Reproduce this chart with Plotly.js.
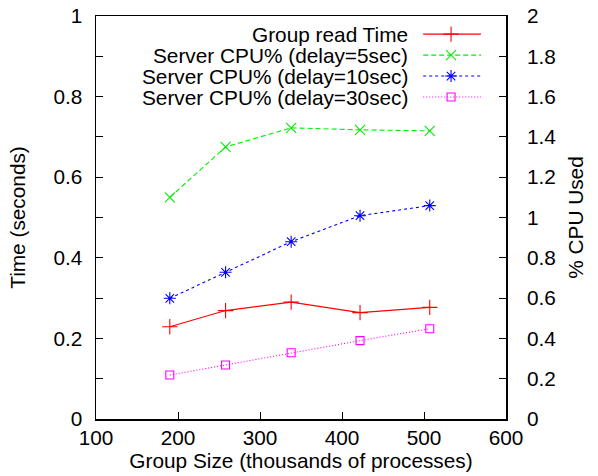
<!DOCTYPE html>
<html>
<head>
<meta charset="utf-8">
<script src="https://cdn.plot.ly/plotly-3.0.1.min.js"></script>
<style>html,body{margin:0;padding:0;background:#fff;}#chart{width:598px;height:476px;}</style>
</head>
<body>
<div id="chart"></div>
<script>
// ---- data ----
const groupSize = [190, 258, 338, 422, 507];          // thousands of processes
const readTime  = [0.229, 0.269, 0.290, 0.264, 0.277]; // seconds (left axis)
const cpu5      = [1.10, 1.35, 1.445, 1.435, 1.43];     // % CPU (right axis)
const cpu10     = [0.599, 0.728, 0.880, 1.009, 1.059];
const cpu30     = [0.218, 0.268, 0.329, 0.389, 0.448];
const seriesNames = ['Group read Time', 'Server CPU% (delay=5sec)', 'Server CPU% (delay=10sec)', 'Server CPU% (delay=30sec)'];
const xTicks  = [100, 200, 300, 400, 500, 600];

// ---- styles ----
const FONT = 'Liberation Sans, Arial, Helvetica, sans-serif';
const FS = 20.8;
const styles = [
  {color: '#ff0000', dash: 'solid',     symbol: 'cross-thin-open', size: 11},
  {color: '#00ee00', dash: '5px,3px',   symbol: 'x-thin-open',     size: 10},
  {color: '#0000ff', dash: '3px,3px',   symbol: 'asterisk-open',   size: 10},
  {color: '#ff00ff', dash: '1px,2px',   symbol: 'square-open',     size: 8}
];
const seriesY = [readTime, cpu5, cpu10, cpu30];
const seriesAxis = ['y', 'y2', 'y2', 'y2'];

const traces = seriesY.map((ys, i) => ({
  type: 'scatter', mode: 'lines+markers', name: seriesNames[i],
  x: groupSize, y: ys, yaxis: seriesAxis[i], showlegend: false,
  line: {color: styles[i].color, width: 1.1, dash: styles[i].dash},
  marker: {symbol: styles[i].symbol, size: styles[i].size, color: styles[i].color,
           line: {color: styles[i].color, width: 1.1}}
}));

// ---- gnuplot-style key: text right-aligned, sample to the right ----
const keyRowY = [0.955, 0.903, 0.851, 0.799];
const keyTextX = 0.766, keyX0 = 0.798, keyXm = 0.866, keyX1 = 0.939;
const annotations = [];
seriesNames.forEach((name, i) => {
  traces.push({
    type: 'scatter', mode: 'lines+markers', xaxis: 'x2', yaxis: 'y3', showlegend: false,
    hoverinfo: 'skip',
    x: [keyX0, keyXm, keyX1], y: [keyRowY[i], keyRowY[i], keyRowY[i]],
    line: {color: styles[i].color, width: 1.1, dash: styles[i].dash},
    marker: {symbol: styles[i].symbol, size: styles[i].size, color: styles[i].color,
             opacity: [0, 1, 0], line: {color: styles[i].color, width: 1.1}}
  });
  annotations.push({
    xref: 'x2', yref: 'y3', x: keyTextX, y: keyRowY[i], text: name,
    showarrow: false, xanchor: 'right', yanchor: 'middle',
    font: {family: FONT, size: FS, color: '#000'}
  });
});

const layout = {
  width: 598, height: 476,
  margin: {l: 96, r: 92, t: 16, b: 57, pad: 0},
  paper_bgcolor: '#fff', plot_bgcolor: '#fff',
  font: {family: FONT, size: FS, color: '#000'},
  showlegend: false,
  xaxis: {
    range: [100, 600], tickvals: xTicks, ticktext: xTicks.map(String),
    ticks: 'inside', ticklen: 7, tickcolor: '#000', tickwidth: 1,
    showline: true, linecolor: '#000', linewidth: 1.5, mirror: true,
    showgrid: false, zeroline: false,
    title: {text: 'Group Size (thousands of processes)', font: {family: FONT, size: FS}, standoff: 5},
    tickfont: {family: FONT, size: FS}
  },
  yaxis: {
    range: [0, 1], dtick: 0.2, tick0: 0,
    ticks: 'inside', ticklen: 7, tickcolor: '#000', tickwidth: 1,
    minor: {dtick: 0.1, ticks: 'inside', ticklen: 7, tickcolor: '#000', showgrid: false},
    showline: true, linecolor: '#000', linewidth: 1.5, mirror: true,
    showgrid: false, zeroline: false, ticklabelstandoff: 8,
    title: {text: 'Time (seconds)', font: {family: FONT, size: FS}, standoff: 22},
    tickfont: {family: FONT, size: FS}
  },
  yaxis2: {
    range: [0, 2], dtick: 0.2, tick0: 0, overlaying: 'y', side: 'right',
    ticks: 'inside', ticklen: 7, tickcolor: '#000', tickwidth: 1,
    showline: false, showgrid: false, zeroline: false, ticklabelstandoff: 20,
    title: {text: '% CPU Used', font: {family: FONT, size: FS}, standoff: 13},
    tickfont: {family: FONT, size: FS}
  },
  xaxis2: {overlaying: 'x', range: [0, 1], visible: false, anchor: 'y3'},
  yaxis3: {overlaying: 'y', range: [0, 1], visible: false, anchor: 'x2'},
  annotations: annotations
};

Plotly.newPlot('chart', traces, layout, {displayModeBar: false, staticPlot: true});
</script>
</body>
</html>
